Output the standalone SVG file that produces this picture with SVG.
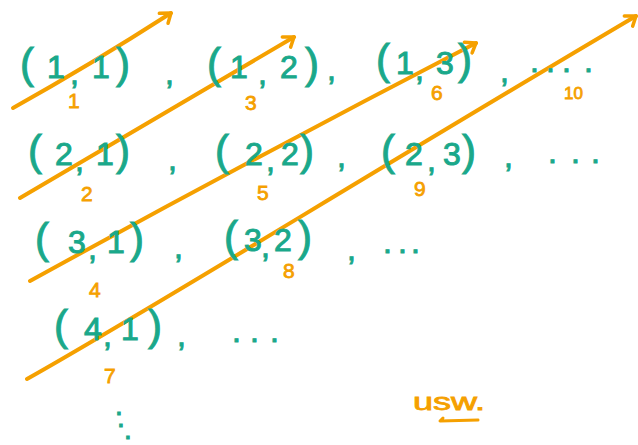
<svg xmlns="http://www.w3.org/2000/svg" width="638" height="445" viewBox="0 0 638 445">
<defs>
<style>
.t{fill:#1aa88a;font-family:"Liberation Sans",Arial,sans-serif;font-size:32px;stroke:#1aa88a;stroke-width:1}
.p{font-size:42px}
.o{fill:#f5a000;font-family:"Liberation Sans",Arial,sans-serif;font-size:21px;stroke:#f5a000;stroke-width:0.8}
.ln{fill:none;stroke:#f5a000;stroke-width:4;stroke-linecap:round;stroke-linejoin:round}
</style>
<marker id="ah" viewBox="-13 -9 16 18" markerWidth="16" markerHeight="18" refX="0" refY="0" orient="auto" markerUnits="userSpaceOnUse">
<path d="M-10,-6 L0,0 L-8,7" fill="none" stroke="#f5a000" stroke-width="3.5" stroke-linecap="round" stroke-linejoin="round"/>
</marker>
</defs>
<rect width="638" height="445" fill="#ffffff"/>

<g id="connectors">
<path class="ln" d="M13,108 Q90,65 171,13" marker-end="url(#ah)"/>
<path class="ln" d="M20,198 L294,37" marker-end="url(#ah)"/>
<path class="ln" d="M30,281 Q250,160 476,43" marker-end="url(#ah)"/>
<path class="ln" d="M27,379 C150,310 350,185 636,16" marker-end="url(#ah)"/>
</g>

<g id="pair-1-1"><text class="t" y="78"><tspan class="p" x="20">(</tspan><tspan x="47">1</tspan><tspan x="70" dy="6">,</tspan><tspan x="92" dy="-6">1</tspan><tspan class="p" x="116">)</tspan></text></g>
<g id="pair-1-2"><text class="t" y="78"><tspan class="p" x="207">(</tspan><tspan x="230">1</tspan><tspan x="258" dy="6">,</tspan><tspan x="280" dy="-6">2</tspan><tspan class="p" x="305">)</tspan></text></g>
<g id="pair-1-3"><text class="t" y="74"><tspan class="p" x="376">(</tspan><tspan x="396">1</tspan><tspan x="415" dy="6">,</tspan><tspan x="436" dy="-6">3</tspan><tspan class="p" x="458">)</tspan></text></g>

<g id="pair-2-1"><text class="t" y="165"><tspan class="p" x="28">(</tspan><tspan x="55">2</tspan><tspan x="75" dy="6">,</tspan><tspan x="96" dy="-6">1</tspan><tspan class="p" x="116">)</tspan></text></g>
<g id="pair-2-2"><text class="t" y="165"><tspan class="p" x="215">(</tspan><tspan x="245">2</tspan><tspan x="266" dy="6">,</tspan><tspan x="281" dy="-6">2</tspan><tspan class="p" x="300">)</tspan></text></g>
<g id="pair-2-3"><text class="t" y="165"><tspan class="p" x="381">(</tspan><tspan x="405">2</tspan><tspan x="427" dy="6">,</tspan><tspan x="443" dy="-6">3</tspan><tspan class="p" x="462">)</tspan></text></g>

<g id="pair-3-1"><text class="t" y="253"><tspan class="p" x="35">(</tspan><tspan x="68">3</tspan><tspan x="88" dy="6">,</tspan><tspan x="107" dy="-6">1</tspan><tspan class="p" x="130">)</tspan></text></g>
<g id="pair-3-2"><text class="t" y="251"><tspan class="p" x="224">(</tspan><tspan x="244">3</tspan><tspan x="261" dy="6">,</tspan><tspan x="274" dy="-6">2</tspan><tspan class="p" x="298">)</tspan></text></g>

<g id="pair-4-1"><text class="t" y="340"><tspan class="p" x="54">(</tspan><tspan x="84">4</tspan><tspan x="103" dy="6">,</tspan><tspan x="121" dy="-6">1</tspan><tspan class="p" x="148">)</tspan></text></g>

<g id="separators">
<text class="t" x="165" y="84">,</text>
<text class="t" x="327" y="80">,</text>
<text class="t" x="500" y="82">,</text>
<text class="t" x="530 546 562 584" y="72">....</text>
<text class="t" x="168" y="170">,</text>
<text class="t" x="337" y="167">,</text>
<text class="t" x="504" y="167">,</text>
<text class="t" x="548 571 591" y="163">...</text>
<text class="t" x="174" y="258">,</text>
<text class="t" x="347" y="260">,</text>
<text class="t" x="383 398 411" y="253">...</text>
<text class="t" x="177" y="346">,</text>
<text class="t" x="232 250 270" y="342">...</text>
<text class="t" x="115 117 124" y="415 427 439" style="font-size:28px">...</text>
</g>

<g id="labels">
<text class="o" x="68" y="108">1</text>
<text class="o" x="245" y="110">3</text>
<text class="o" x="431" y="100">6</text>
<text class="o" x="564" y="99" style="font-size:17px">10</text>
<text class="o" x="81" y="201">2</text>
<text class="o" x="257" y="200">5</text>
<text class="o" x="414" y="196">9</text>
<text class="o" x="89" y="297">4</text>
<text class="o" x="283" y="278">8</text>
<text class="o" x="104" y="383">7</text>
<text class="o" x="413" y="410" style="font-size:24px" textLength="72" lengthAdjust="spacingAndGlyphs">usw.</text>
<path class="ln" d="M443,418 L440,421 L478,420" style="stroke-width:3"/>
</g>
</svg>
